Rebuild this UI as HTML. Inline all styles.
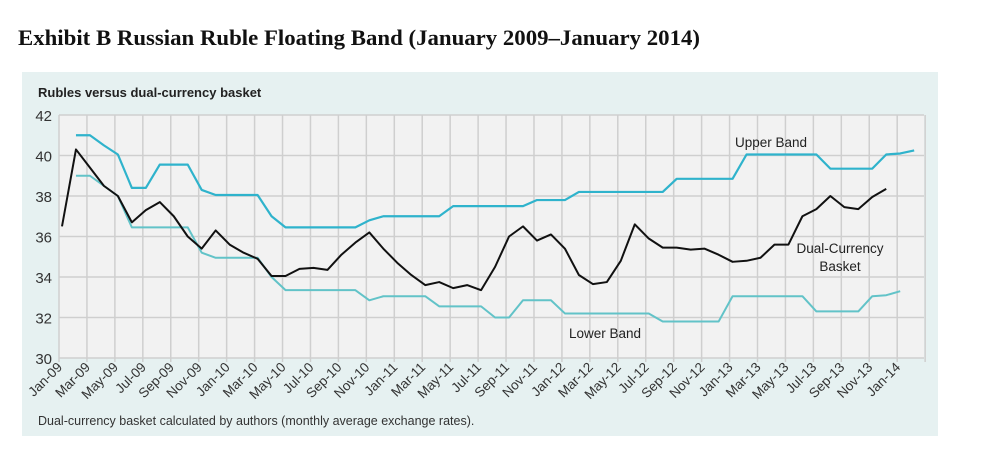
<!DOCTYPE html>
<html><head><meta charset="utf-8"><style>
body{margin:0;background:#fff;width:981px;height:474px;overflow:hidden}
</style></head><body>
<svg id="s" width="981" height="474" style="position:absolute;left:0;top:0">
<text x="18" y="45" textLength="682" lengthAdjust="spacingAndGlyphs" font-family="Liberation Serif,serif" font-weight="bold" font-size="22" fill="#111">Exhibit B Russian Ruble Floating Band (January 2009–January 2014)</text>
<rect x="22" y="72" width="916" height="364" fill="#e6f1f1"/>
<rect x="59" y="115" width="865" height="243" fill="#f2f2f2"/>
<text x="38" y="97" font-family="Liberation Sans,sans-serif" font-weight="bold" font-size="13" fill="#222">Rubles versus dual-currency basket</text>
<text x="38" y="425" font-family="Liberation Sans,sans-serif" font-size="12.5" fill="#333">Dual-currency basket calculated by authors (monthly average exchange rates).</text>
<g id="g"></g>
</svg>
<script>
const g=document.getElementById('g');let h='';
const X=m=>62+13.97*m, Y=v=>358-(v-30)*20.25;
for(let v=30;v<=42;v+=2){h+=`<line x1="59" x2="924" y1="${Y(v)}" y2="${Y(v)}" stroke="#cfcfcf" stroke-width="1.5"/>`;
h+=`<text x="52" y="${Y(v)+6}" text-anchor="end" font-family="Liberation Sans,sans-serif" font-size="15" fill="#333">${v}</text>`;}
const mn=['Jan','Mar','May','Jul','Sep','Nov'];
for(let i=0;i<=31;i++){const x=59+i*27.94;h+=`<line x1="${x}" x2="${x}" y1="115" y2="362" stroke="#cfcfcf" stroke-width="1.5"/>`;
if(i<=30){const yr=String(9+Math.floor(i/6)).padStart(2,'0');
h+=`<text transform="translate(${x+4},368) rotate(-45)" text-anchor="end" font-family="Liberation Sans,sans-serif" font-size="13.5" fill="#333">${mn[i%6]}-${yr}</text>`;}}
function pl(a,st,c,w){return `<polyline fill="none" stroke="${c}" stroke-width="${w}" stroke-linejoin="round" points="${a.map((v,i)=>X(i+st)+','+Y(v)).join(' ')}"/>`;}
const up=[41,41,40.5,40.05,38.4,38.4,39.55,39.55,39.55,38.3,38.05,38.05,38.05,38.05,37,36.45,36.45,36.45,36.45,36.45,36.45,36.8,37,37,37,37,37,37.5,37.5,37.5,37.5,37.5,37.5,37.8,37.8,37.8,38.2,38.2,38.2,38.2,38.2,38.2,38.2,38.85,38.85,38.85,38.85,38.85,40.05,40.05,40.05,40.05,40.05,40.05,39.35,39.35,39.35,39.35,40.05,40.1,40.25];
const lo=[39,39,38.5,38,36.45,36.45,36.45,36.45,36.45,35.2,34.95,34.95,34.95,34.95,34,33.35,33.35,33.35,33.35,33.35,33.35,32.85,33.05,33.05,33.05,33.05,32.55,32.55,32.55,32.55,32,32,32.85,32.85,32.85,32.2,32.2,32.2,32.2,32.2,32.2,32.2,31.8,31.8,31.8,31.8,31.8,33.05,33.05,33.05,33.05,33.05,33.05,32.3,32.3,32.3,32.3,33.05,33.1,33.3];
const bk=[36.5,40.3,39.4,38.5,38,36.7,37.3,37.7,37,36,35.4,36.3,35.6,35.2,34.9,34.05,34.05,34.4,34.45,34.35,35.1,35.7,36.2,35.4,34.7,34.1,33.6,33.75,33.45,33.6,33.35,34.5,36,36.5,35.8,36.1,35.4,34.1,33.65,33.75,34.8,36.6,35.9,35.45,35.45,35.35,35.4,35.1,34.75,34.8,34.95,35.6,35.6,37,37.35,38,37.45,37.35,37.95,38.35];
h+=pl(lo,1,'#62c3c8',2)+pl(up,1,'#2fb3cc',2.2)+pl(bk,0,'#111',2);
const L=(x,y,t)=>`<text x="${x}" y="${y}" text-anchor="middle" font-family="Liberation Sans,sans-serif" font-size="13.5" fill="#222">${t}</text>`;
h+=L(771,147,'Upper Band')+L(840,253,'Dual-Currency')+L(840,271,'Basket')+L(605,338,'Lower Band');
g.innerHTML=h;
</script>
</body></html>
